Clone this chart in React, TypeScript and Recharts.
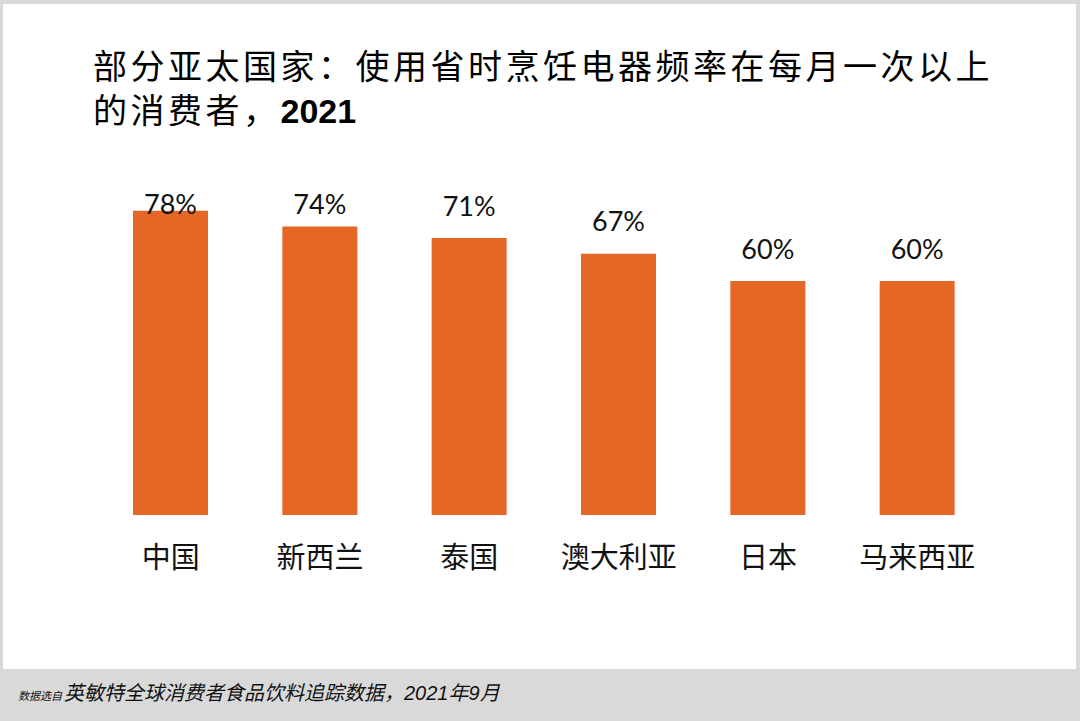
import { BarChart, Bar, XAxis, YAxis, LabelList } from "recharts";

const countries = ["中国", "新西兰", "泰国", "澳大利亚", "日本", "马来西亚"];
const shares = [78, 74, 71, 67, 60, 60];

const data = countries.map((name, i) => ({ name, share: shares[i] }));

const BAR_COLOR = "#E46725";
const CJK = '"Noto Sans CJK SC", "Liberation Sans", sans-serif';

function CountryTick({ x, y, payload }: any) {
  return (
    <text
      x={x}
      y={y + 32}
      textAnchor="middle"
      dominantBaseline="central"
      fontSize={29}
      fontFamily={CJK}
      fill="#111"
    >
      {payload.value}
    </text>
  );
}

// value labels sit above the bar, but the tallest one is held down so it
// doesn't run into the title
function ShareLabel({ x, y, width, value }: any) {
  const cy = Math.max(y - 33, 203);
  return (
    <text
      x={x + width / 2}
      y={cy}
      textAnchor="middle"
      dominantBaseline="central"
      fontSize={27}
      fontFamily='Lato, "Open Sans", sans-serif'
      fill="#111"
    >
      {`${value}%`}
    </text>
  );
}

export default function App() {
  return (
    <div
      style={{
        position: "absolute",
        left: 0,
        top: 0,
        width: 1080,
        height: 721,
        background: "#d9d9d9",
        overflow: "hidden",
      }}
    >
      <div
        style={{
          position: "absolute",
          left: 3,
          top: 4,
          width: 1073,
          height: 665,
          background: "#fff",
        }}
      />
      <div
        style={{
          position: "absolute",
          left: 93,
          top: 43,
          fontFamily: CJK,
          fontSize: 34,
          lineHeight: "44px",
          letterSpacing: 3.5,
          color: "#000",
          whiteSpace: "nowrap",
        }}
      >
        <div>部分亚太国家：使用省时烹饪电器频率在每月一次以上</div>
        <div>
          的消费者，
          <span
            style={{
              fontFamily: '"Liberation Sans", Arial, sans-serif',
              fontWeight: 700,
              letterSpacing: 0,
            }}
          >
            2021
          </span>
        </div>
      </div>

      <div style={{ position: "absolute", left: 0, top: 0 }}>
        <BarChart
          width={1080}
          height={600}
          data={data}
          margin={{ top: 125, right: 88, bottom: 25, left: 96 }}
        >
          <XAxis
            dataKey="name"
            axisLine={false}
            tickLine={false}
            height={60}
            interval={0}
            tick={<CountryTick />}
          />
          <YAxis hide domain={[0, 100]} />
          <Bar dataKey="share" fill={BAR_COLOR} barSize={75} isAnimationActive={false}>
            <LabelList dataKey="share" content={<ShareLabel />} />
          </Bar>
        </BarChart>
      </div>

      <div
        style={{
          position: "absolute",
          left: 18,
          top: 677,
          fontFamily: CJK,
          fontStyle: "italic",
          color: "#111",
          whiteSpace: "nowrap",
          display: "flex",
          alignItems: "baseline",
        }}
      >
        <span style={{ fontSize: 11 }}>数据选自</span>
        <span style={{ fontSize: 20, marginLeft: 2 }}>
          英敏特全球消费者食品饮料追踪数据，
          <span style={{ fontFamily: '"Liberation Sans", Arial, sans-serif' }}>2021</span>年
          <span style={{ fontFamily: '"Liberation Sans", Arial, sans-serif' }}>9</span>月
        </span>
      </div>
    </div>
  );
}
